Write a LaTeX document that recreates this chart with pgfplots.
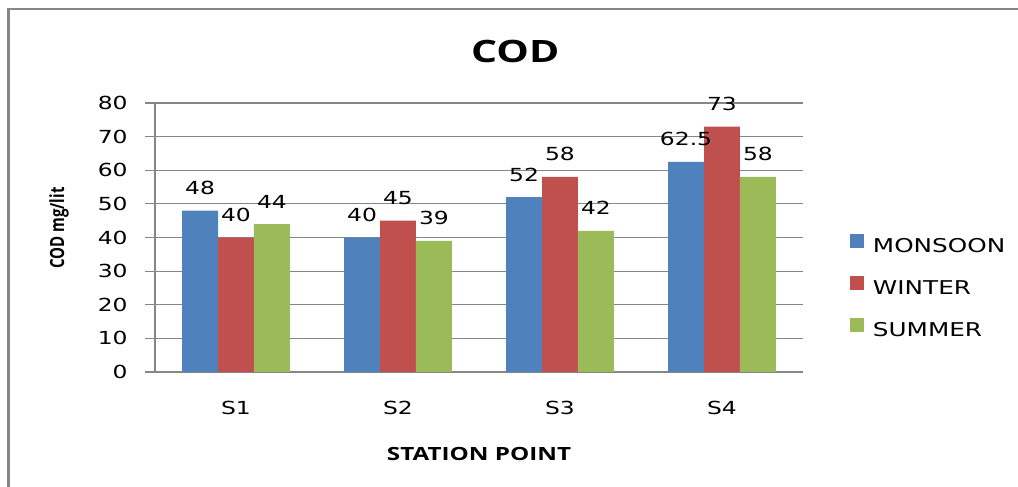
\documentclass[border=0pt]{standalone}
\usepackage{pgfplots}
\pgfplotsset{compat=1.18}
\usepackage{pgfplotstable}
\usepackage{fontspec}
\setmainfont{DejaVu Sans}[FakeStretch=1.3]
\newfontfamily\headfont{Open Sans}[FakeStretch=1.33]
\newfontfamily\ylabfont{Open Sans}

\definecolor{monsoon}{HTML}{4F81BD}
\definecolor{winter}{HTML}{C0504D}
\definecolor{summer}{HTML}{9BBB59}
\definecolor{gridgray}{HTML}{868686}

% COD (mg/lit) per station and season
\pgfplotstableread{
idx monsoon winter summer
0   48      40     44
1   40      45     39
2   52      58     42
3   62.5    73     58
}\codtable

\pgfplotsset{
  sqlegend/.style={legend image code/.code={\fill[##1] (0pt,-1pt) rectangle (7pt,6pt);}},
}

\begin{document}
\begin{tikzpicture}
\useasboundingbox (0,0) rectangle (509pt,243.5pt);
% chart frame
\draw[gridgray, line width=1.3pt] (4.35pt,-5pt) -- (4.35pt,239pt) -- (520pt,239pt);
\begin{axis}[
  at={(77.5pt,57.5pt)}, anchor=south west,
  scale only axis, width=324pt, height=134.5pt,
  ybar=0pt, bar width=0.222,
  xmin=-0.5, xmax=3.5, ymin=0, ymax=80,
  xtick={0,1,2,3}, xticklabels={S1,S2,S3,S4},
  ytick={0,10,...,80},
  ymajorgrids,
  grid style={draw=gridgray, line width=0.6pt},
  axis x line=bottom, axis y line=left,
  axis line style={-, draw=gridgray, line width=0.6pt},
  y axis line style={line width=1.1pt},
  tick align=outside, major tick length=5pt,
  tick style={draw=gridgray, line width=0.6pt},
  xtick style={draw=none},
  /pgf/number format/assume math mode=true,
  ticklabel style={font=\fontsize{9}{10}\selectfont, text=black},
  yticklabel style={anchor=east, inner sep=0pt, xshift=-8.5pt},
  xticklabel style={anchor=north, inner sep=0pt, yshift=-9.5pt},
  title={COD},
  every axis title/.style={at={(axis description cs:0.556,1.19)}, anchor=center,
    font=\headfont\bfseries\fontsize{15.4}{16}\selectfont},
  xlabel={STATION POINT},
  every axis x label/.style={at={(axis description cs:0.5,0)}, anchor=center, yshift=-40.75pt,
    font=\headfont\bfseries\fontsize{9.1}{10}\selectfont},
  ylabel={\scalebox{1}[1.3]{COD mg/lit}},
  every axis y label/.style={at={(axis description cs:-0.148,0.535)}, rotate=90, anchor=center,
    font=\ylabfont\bfseries\fontsize{7.5}{9}\selectfont},
  nodes near coords,
  every node near coord/.append style={font=\fontsize{9}{10}\selectfont, text=black,
    anchor=south, inner sep=0pt, yshift=7.7pt},
  legend cell align=left,
  legend style={at={(axis description cs:1.0725,0.323)}, anchor=west,
    draw=none, fill=none, inner sep=0pt, outer sep=0pt,
    row sep=11.5pt, column sep=4.5pt,
    font=\fontsize{9.5}{10}\selectfont,
    nodes={inner sep=0pt, text height=7pt, text depth=0pt}},
]
\addplot[fill=monsoon, draw=none, sqlegend] table[x=idx, y=monsoon] {\codtable};
\addplot[fill=winter, draw=none, sqlegend] table[x=idx, y=winter] {\codtable};
\addplot[fill=summer, draw=none, sqlegend] table[x=idx, y=summer] {\codtable};
\legend{MONSOON, WINTER, SUMMER}
\end{axis}
\end{tikzpicture}
\end{document}
